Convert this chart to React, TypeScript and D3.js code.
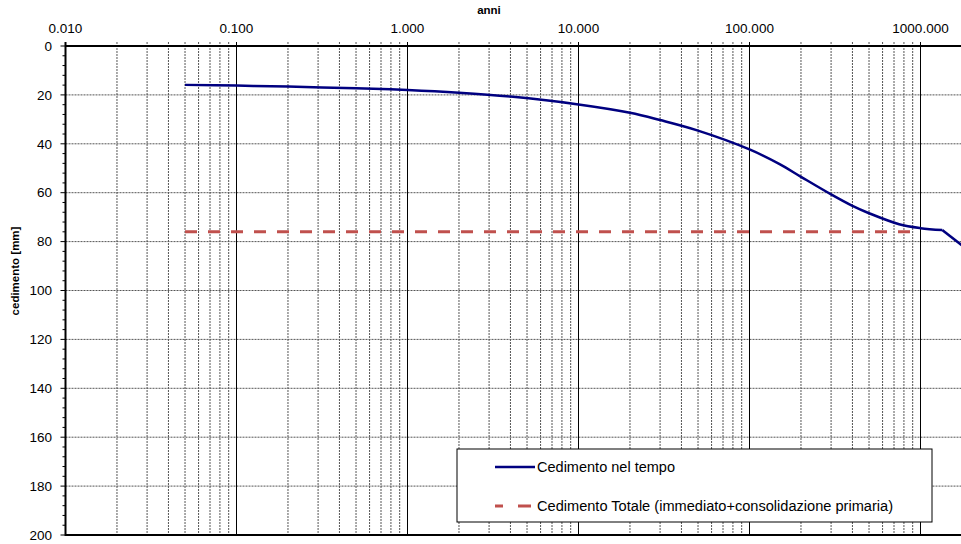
import React from "react";
import * as d3 from "d3";

const timeYears: number[] = [0.05, 0.1, 0.2, 0.5, 1, 2, 4, 10, 20, 30, 50, 100, 150, 200, 300, 400, 500, 750, 1000, 1340, 2000];
const settlementMm: number[] = [15.9, 16.2, 16.6, 17.3, 18.0, 19.1, 20.7, 23.9, 27.3, 30.3, 34.6, 42.3, 48.3, 53.5, 60.7, 65.4, 68.4, 72.9, 74.5, 75.3, 84.7];
const totalTime: number[] = [0.05, 1000];
const totalMm: number[] = [76.0, 76.0];
const xTickLabels: string[] = ["0.010", "0.100", "1.000", "10.000", "100.000", "1000.000"];
const yTicks: number[] = [0, 20, 40, 60, 80, 100, 120, 140, 160, 180, 200];
const seriesNames: string[] = ["Cedimento nel tempo", "Cedimento Totale (immediato+consolidazione primaria)"];

const W = 961, H = 544;
const left = 65.5, top = 46, bottom = 535;
const decade = 171;

export default function App() {
  const x = d3.scaleLog().domain([0.01, 10000]).range([left, left + 6 * decade]);
  const y = d3.scaleLinear().domain([0, 200]).range([top, bottom]);
  const majors = [0.01, 0.1, 1, 10, 100, 1000, 10000];
  const minors: number[] = [];
  majors.slice(0, -1).forEach((m) => { for (let k = 2; k <= 9; k++) minors.push(m * k); });
  const yMinor: number[] = d3.range(0, 201, 4).filter((v) => v % 20 !== 0);
  const pts: [number, number][] = timeYears.map((t, i) => [x(t), y(settlementMm[i])]);
  const n = pts.length;
  const smooth = d3.line().curve(d3.curveCatmullRom.alpha(0.5))(pts.slice(0, n - 1)) || "";
  const tail = d3.line()(pts.slice(n - 2)) || "";
  const line2 = d3.line<number>().x((_, i) => x(totalTime[i])).y((d) => y(d));
  const font = "'Liberation Sans', Arial, sans-serif";
  return (
    <svg width={W} height={H} style={{ position: "absolute", left: 0, top: 0, display: "block", background: "#fff" }} fontFamily={font}>
      <defs>
        <clipPath id="plotclip"><rect x={left} y={top - 5} width={W - left} height={bottom - top + 10} /></clipPath>
      </defs>
      {yTicks.slice(1, -1).map((v) => (
        <line key={"h" + v} x1={left} x2={W} y1={y(v)} y2={y(v)} stroke="#555" strokeWidth={1} strokeDasharray="2,1" />
      ))}
      {minors.map((v, i) => (
        <line key={"vm" + i} x1={x(v)} x2={x(v)} y1={top - 4} y2={bottom} stroke="#555" strokeWidth={1} strokeDasharray="2,1" />
      ))}
      {majors.slice(1).map((v, i) => (
        <line key={"vM" + i} x1={x(v)} x2={x(v)} y1={top - 4} y2={bottom} stroke="#000" strokeWidth={1} />
      ))}
      <g clipPath="url(#plotclip)">
        <path d={line2(totalMm) || ""} fill="none" stroke="#c0504d" strokeWidth={3} strokeDasharray="12,11" />
        <path d={smooth} fill="none" stroke="#000080" strokeWidth={2.5} />
        <path d={tail} fill="none" stroke="#000080" strokeWidth={2.5} />
      </g>
      <line x1={left} x2={W} y1={top} y2={top} stroke="#000" strokeWidth={2} />
      <line x1={left} x2={W} y1={bottom} y2={bottom} stroke="#000" strokeWidth={2} />
      <line x1={left} x2={left} y1={top - 4} y2={bottom + 1} stroke="#000" strokeWidth={2} />
      {yTicks.map((v) => (
        <line key={"yt" + v} x1={left - 5} x2={left} y1={y(v)} y2={y(v)} stroke="#000" strokeWidth={1} />
      ))}
      {yMinor.map((v) => (
        <line key={"ym" + v} x1={left - 3} x2={left} y1={y(v)} y2={y(v)} stroke="#000" strokeWidth={1} />
      ))}
      {yTicks.map((v) => (
        <text key={"yl" + v} x={52} y={y(v)} dy="0.35em" textAnchor="end" fontSize={13.5}>{v}</text>
      ))}
      {majors.slice(0, -1).map((v, i) => (
        <text key={"xl" + i} x={x(v)} y={33} textAnchor="middle" fontSize={13.5}>{xTickLabels[i]}</text>
      ))}
      <text x={489} y={14} textAnchor="middle" fontSize={11.5} fontWeight="bold">anni</text>
      <text transform={`translate(19,${271}) rotate(-90)`} textAnchor="middle" fontSize={11.5} fontWeight="bold">cedimento [mm]</text>
      <rect x={457} y={449} width={475} height={73} fill="#fff" stroke="#000" strokeWidth={1} />
      <line x1={495} x2={535} y1={467} y2={467} stroke="#000080" strokeWidth={2.5} />
      <line x1={495} x2={531} y1={506} y2={506} stroke="#c0504d" strokeWidth={3} strokeDasharray="8,15,13" />
      <text x={537} y={467} dy="0.35em" fontSize={14} textLength={138} lengthAdjust="spacingAndGlyphs">{seriesNames[0]}</text>
      <text x={537} y={506} dy="0.35em" fontSize={14} textLength={356} lengthAdjust="spacingAndGlyphs">{seriesNames[1]}</text>
    </svg>
  );
}
